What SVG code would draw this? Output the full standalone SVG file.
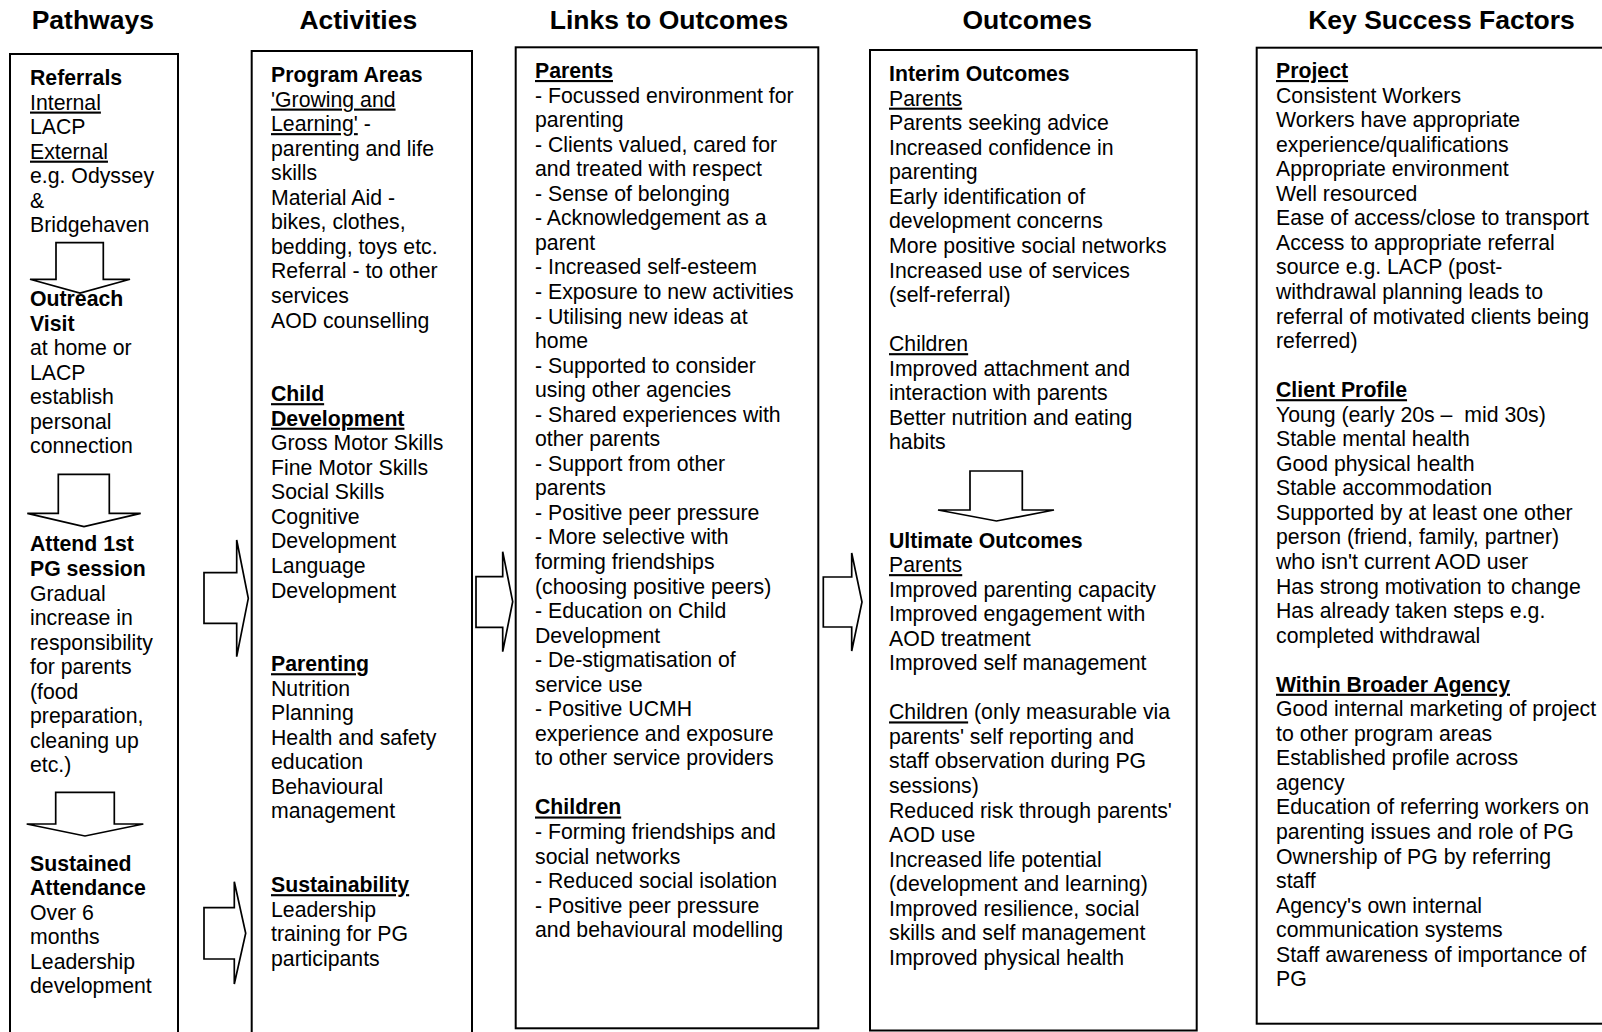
<svg xmlns="http://www.w3.org/2000/svg" width="1602" height="1032" viewBox="0 0 1602 1032">
<style>
.bg{fill:#fff}
.box{fill:none;stroke:#000;stroke-width:2}
.arr{fill:#fff;stroke:#000;stroke-width:1.7;stroke-linejoin:miter}
.h{font-family:"Liberation Sans",Arial,sans-serif;font-size:26.5px;font-weight:bold;text-anchor:middle;fill:#000}
.t{font-family:"Liberation Sans",Arial,sans-serif;font-size:21.25px;fill:#000}
.b{font-weight:bold}
.u{text-decoration:underline}
</style>
<rect class="bg" x="0" y="0" width="1602" height="1032"/>
<g id="headers">
<text class="h" x="92.8" y="28.5">Pathways</text>
<text class="h" x="358.3" y="28.5">Activities</text>
<text class="h" x="669" y="28.5">Links to Outcomes</text>
<text class="h" x="1027.2" y="28.5">Outcomes</text>
<text class="h" x="1441.5" y="28.5">Key Success Factors</text>
</g>
<g id="pathways">
<rect class="box" x="10" y="54" width="168" height="990"/>
<text class="t">
<tspan x="30" y="85" class="b">Referrals</tspan>
<tspan x="30" dy="24.55" class="u">Internal</tspan>
<tspan x="30" dy="24.55">LACP</tspan>
<tspan x="30" dy="24.55" class="u">External</tspan>
<tspan x="30" dy="24.55">e.g. Odyssey</tspan>
<tspan x="30" dy="24.55">&amp;</tspan>
<tspan x="30" dy="24.55">Bridgehaven</tspan>
<tspan x="30" dy="73.65" class="b">Outreach</tspan>
<tspan x="30" dy="24.55" class="b">Visit</tspan>
<tspan x="30" dy="24.55">at home or</tspan>
<tspan x="30" dy="24.55">LACP</tspan>
<tspan x="30" dy="24.55">establish</tspan>
<tspan x="30" dy="24.55">personal</tspan>
<tspan x="30" dy="24.55">connection</tspan>
<tspan x="30" dy="98.2" class="b">Attend 1st</tspan>
<tspan x="30" dy="24.55" class="b">PG session</tspan>
<tspan x="30" dy="24.55">Gradual</tspan>
<tspan x="30" dy="24.55">increase in</tspan>
<tspan x="30" dy="24.55">responsibility</tspan>
<tspan x="30" dy="24.55">for parents</tspan>
<tspan x="30" dy="24.55">(food</tspan>
<tspan x="30" dy="24.55">preparation,</tspan>
<tspan x="30" dy="24.55">cleaning up</tspan>
<tspan x="30" dy="24.55">etc.)</tspan>
<tspan x="30" dy="98.2" class="b">Sustained</tspan>
<tspan x="30" dy="24.55" class="b">Attendance</tspan>
<tspan x="30" dy="24.55">Over 6</tspan>
<tspan x="30" dy="24.55">months</tspan>
<tspan x="30" dy="24.55">Leadership</tspan>
<tspan x="30" dy="24.55">development</tspan>
</text>
</g>
<g id="activities">
<rect class="box" x="251.7" y="51" width="220.3" height="993"/>
<text class="t">
<tspan x="271" y="82" class="b">Program Areas</tspan>
<tspan x="271" dy="24.55" class="u">'Growing and</tspan>
<tspan x="271" dy="24.55"><tspan class="u">Learning'</tspan> -</tspan>
<tspan x="271" dy="24.55">parenting and life</tspan>
<tspan x="271" dy="24.55">skills</tspan>
<tspan x="271" dy="24.55">Material Aid -</tspan>
<tspan x="271" dy="24.55">bikes, clothes,</tspan>
<tspan x="271" dy="24.55">bedding, toys etc.</tspan>
<tspan x="271" dy="24.55">Referral - to other</tspan>
<tspan x="271" dy="24.55">services</tspan>
<tspan x="271" dy="24.55">AOD counselling</tspan>
<tspan x="271" dy="73.65" class="b u">Child</tspan>
<tspan x="271" dy="24.55" class="b u">Development</tspan>
<tspan x="271" dy="24.55">Gross Motor Skills</tspan>
<tspan x="271" dy="24.55">Fine Motor Skills</tspan>
<tspan x="271" dy="24.55">Social Skills</tspan>
<tspan x="271" dy="24.55">Cognitive</tspan>
<tspan x="271" dy="24.55">Development</tspan>
<tspan x="271" dy="24.55">Language</tspan>
<tspan x="271" dy="24.55">Development</tspan>
<tspan x="271" dy="73.65" class="b u">Parenting</tspan>
<tspan x="271" dy="24.55">Nutrition</tspan>
<tspan x="271" dy="24.55">Planning</tspan>
<tspan x="271" dy="24.55">Health and safety</tspan>
<tspan x="271" dy="24.55">education</tspan>
<tspan x="271" dy="24.55">Behavioural</tspan>
<tspan x="271" dy="24.55">management</tspan>
<tspan x="271" dy="73.65" class="b u">Sustainability</tspan>
<tspan x="271" dy="24.55">Leadership</tspan>
<tspan x="271" dy="24.55">training for PG</tspan>
<tspan x="271" dy="24.55">participants</tspan>
</text>
</g>
<g id="links">
<rect class="box" x="515.7" y="47.3" width="302.6" height="981"/>
<text class="t">
<tspan x="535" y="78" class="b u">Parents</tspan>
<tspan x="535" dy="24.55">- Focussed environment for</tspan>
<tspan x="535" dy="24.55">parenting</tspan>
<tspan x="535" dy="24.55">- Clients valued, cared for</tspan>
<tspan x="535" dy="24.55">and treated with respect</tspan>
<tspan x="535" dy="24.55">- Sense of belonging</tspan>
<tspan x="535" dy="24.55">- Acknowledgement as a</tspan>
<tspan x="535" dy="24.55">parent</tspan>
<tspan x="535" dy="24.55">- Increased self-esteem</tspan>
<tspan x="535" dy="24.55">- Exposure to new activities</tspan>
<tspan x="535" dy="24.55">- Utilising new ideas at</tspan>
<tspan x="535" dy="24.55">home</tspan>
<tspan x="535" dy="24.55">- Supported to consider</tspan>
<tspan x="535" dy="24.55">using other agencies</tspan>
<tspan x="535" dy="24.55">- Shared experiences with</tspan>
<tspan x="535" dy="24.55">other parents</tspan>
<tspan x="535" dy="24.55">- Support from other</tspan>
<tspan x="535" dy="24.55">parents</tspan>
<tspan x="535" dy="24.55">- Positive peer pressure</tspan>
<tspan x="535" dy="24.55">- More selective with</tspan>
<tspan x="535" dy="24.55">forming friendships</tspan>
<tspan x="535" dy="24.55">(choosing positive peers)</tspan>
<tspan x="535" dy="24.55">- Education on Child</tspan>
<tspan x="535" dy="24.55">Development</tspan>
<tspan x="535" dy="24.55">- De-stigmatisation of</tspan>
<tspan x="535" dy="24.55">service use</tspan>
<tspan x="535" dy="24.55">- Positive UCMH</tspan>
<tspan x="535" dy="24.55">experience and exposure</tspan>
<tspan x="535" dy="24.55">to other service providers</tspan>
<tspan x="535" dy="49.1" class="b u">Children</tspan>
<tspan x="535" dy="24.55">- Forming friendships and</tspan>
<tspan x="535" dy="24.55">social networks</tspan>
<tspan x="535" dy="24.55">- Reduced social isolation</tspan>
<tspan x="535" dy="24.55">- Positive peer pressure</tspan>
<tspan x="535" dy="24.55">and behavioural modelling</tspan>
</text>
</g>
<g id="outcomes">
<rect class="box" x="870" y="50" width="326.7" height="980.5"/>
<text class="t">
<tspan x="889" y="81.1" class="b">Interim Outcomes</tspan>
<tspan x="889" dy="24.55" class="u">Parents</tspan>
<tspan x="889" dy="24.55">Parents seeking advice</tspan>
<tspan x="889" dy="24.55">Increased confidence in</tspan>
<tspan x="889" dy="24.55">parenting</tspan>
<tspan x="889" dy="24.55">Early identification of</tspan>
<tspan x="889" dy="24.55">development concerns</tspan>
<tspan x="889" dy="24.55">More positive social networks</tspan>
<tspan x="889" dy="24.55">Increased use of services</tspan>
<tspan x="889" dy="24.55">(self-referral)</tspan>
<tspan x="889" dy="49.1" class="u">Children</tspan>
<tspan x="889" dy="24.55">Improved attachment and</tspan>
<tspan x="889" dy="24.55">interaction with parents</tspan>
<tspan x="889" dy="24.55">Better nutrition and eating</tspan>
<tspan x="889" dy="24.55">habits</tspan>
<tspan x="889" dy="98.2" class="b">Ultimate Outcomes</tspan>
<tspan x="889" dy="24.55" class="u">Parents</tspan>
<tspan x="889" dy="24.55">Improved parenting capacity</tspan>
<tspan x="889" dy="24.55">Improved engagement with</tspan>
<tspan x="889" dy="24.55">AOD treatment</tspan>
<tspan x="889" dy="24.55">Improved self management</tspan>
<tspan x="889" dy="49.1"><tspan class="u">Children</tspan> (only measurable via</tspan>
<tspan x="889" dy="24.55">parents' self reporting and</tspan>
<tspan x="889" dy="24.55">staff observation during PG</tspan>
<tspan x="889" dy="24.55">sessions)</tspan>
<tspan x="889" dy="24.55">Reduced risk through parents'</tspan>
<tspan x="889" dy="24.55">AOD use</tspan>
<tspan x="889" dy="24.55">Increased life potential</tspan>
<tspan x="889" dy="24.55">(development and learning)</tspan>
<tspan x="889" dy="24.55">Improved resilience, social</tspan>
<tspan x="889" dy="24.55">skills and self management</tspan>
<tspan x="889" dy="24.55">Improved physical health</tspan>
</text>
</g>
<g id="key-success-factors">
<rect class="box" x="1256.7" y="47.7" width="360" height="976"/>
<text class="t">
<tspan x="1276" y="78" class="b u">Project</tspan>
<tspan x="1276" dy="24.55">Consistent Workers</tspan>
<tspan x="1276" dy="24.55">Workers have appropriate</tspan>
<tspan x="1276" dy="24.55">experience/qualifications</tspan>
<tspan x="1276" dy="24.55">Appropriate environment</tspan>
<tspan x="1276" dy="24.55">Well resourced</tspan>
<tspan x="1276" dy="24.55">Ease of access/close to transport</tspan>
<tspan x="1276" dy="24.55">Access to appropriate referral</tspan>
<tspan x="1276" dy="24.55">source e.g. LACP (post-</tspan>
<tspan x="1276" dy="24.55">withdrawal planning leads to</tspan>
<tspan x="1276" dy="24.55">referral of motivated clients being</tspan>
<tspan x="1276" dy="24.55">referred)</tspan>
<tspan x="1276" dy="49.1" class="b u">Client Profile</tspan>
<tspan x="1276" dy="24.55">Young (early 20s –&#160; mid 30s)</tspan>
<tspan x="1276" dy="24.55">Stable mental health</tspan>
<tspan x="1276" dy="24.55">Good physical health</tspan>
<tspan x="1276" dy="24.55">Stable accommodation</tspan>
<tspan x="1276" dy="24.55">Supported by at least one other</tspan>
<tspan x="1276" dy="24.55">person (friend, family, partner)</tspan>
<tspan x="1276" dy="24.55">who isn't current AOD user</tspan>
<tspan x="1276" dy="24.55">Has strong motivation to change</tspan>
<tspan x="1276" dy="24.55">Has already taken steps e.g.</tspan>
<tspan x="1276" dy="24.55">completed withdrawal</tspan>
<tspan x="1276" dy="49.1" class="b u">Within Broader Agency</tspan>
<tspan x="1276" dy="24.55">Good internal marketing of project</tspan>
<tspan x="1276" dy="24.55">to other program areas</tspan>
<tspan x="1276" dy="24.55">Established profile across</tspan>
<tspan x="1276" dy="24.55">agency</tspan>
<tspan x="1276" dy="24.55">Education of referring workers on</tspan>
<tspan x="1276" dy="24.55">parenting issues and role of PG</tspan>
<tspan x="1276" dy="24.55">Ownership of PG by referring</tspan>
<tspan x="1276" dy="24.55">staff</tspan>
<tspan x="1276" dy="24.55">Agency's own internal</tspan>
<tspan x="1276" dy="24.55">communication systems</tspan>
<tspan x="1276" dy="24.55">Staff awareness of importance of</tspan>
<tspan x="1276" dy="24.55">PG</tspan>
</text>
</g>
<g id="connectors">
<polygon class="arr" points="56,242.7 103.3,242.7 103.3,279.3 130,279.3 80,293 30,279.3 56,279.3"/>
<polygon class="arr" points="58.3,474.3 109.3,474.3 109.3,513.3 140.7,513.3 84,526.7 27.3,513.3 58.3,513.3"/>
<polygon class="arr" points="55.7,792.3 114.3,792.3 114.3,824 143.3,824 85,836 26.7,824 55.7,824"/>
<polygon class="arr" points="204,572.7 236.7,572.7 236.7,540 248.3,598.3 236.7,656.7 236.7,623.3 204,623.3"/>
<polygon class="arr" points="204,907.7 234.3,907.7 234.3,881.7 245.7,933.3 234.3,984 234.3,959 204,959"/>
<polygon class="arr" points="476,576.7 502.7,576.7 502.7,551.7 512.7,601.7 502.7,651.7 502.7,627.3 476,627.3"/>
<polygon class="arr" points="823.3,577 851.7,577 851.7,553 862,602 851.7,651 851.7,627 823.3,627"/>
<polygon class="arr" points="970,471 1022.3,471 1022.3,510 1054,510 996.5,521 938,510 970,510"/>
</g>
</svg>
